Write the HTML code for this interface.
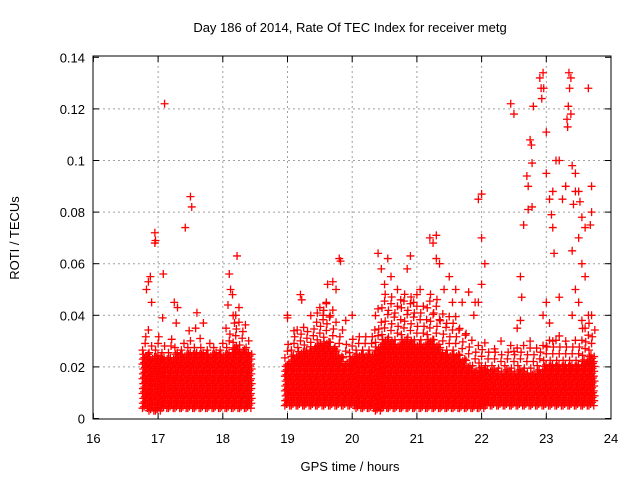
<!DOCTYPE html>
<html><head><meta charset="utf-8"><style>
body{margin:0;background:#fff}
svg{display:block;font-family:"Liberation Sans",sans-serif}
</style></head><body>
<svg id="chart" width="640" height="480">
<rect width="640" height="480" fill="#fff"/>
<text x="350" y="32" font-size="13" text-anchor="middle">Day 186 of 2014, Rate Of TEC Index for receiver metg</text>
<text x="350" y="471" font-size="13" text-anchor="middle">GPS time / hours</text>
<text transform="translate(19,238) rotate(-90)" font-size="13" text-anchor="middle">ROTI / TECUs</text>
<g id="grid"></g><g id="marks"></g><g id="axes"></g>
</svg>
<script>
const xTicks=[16,17,18,19,20,21,22,23,24];
const yTicks=[0,0.02,0.04,0.06,0.08,0.1,0.12,0.14];
const yTickLabels=["0","0.02","0.04","0.06","0.08","0.1","0.12","0.14"];
// dense band per 0.1h bin
const binTimes=[16.8,16.9,17.0,17.1,17.2,17.3,17.4,17.5,17.6,17.7,17.8,17.9,18.0,18.1,18.2,18.3,18.4,
19.0,19.1,19.2,19.3,19.4,19.5,19.6,19.7,19.8,19.9,20.0,20.1,20.2,20.3,20.4,20.5,20.6,20.7,20.8,20.9,21.0,21.1,21.2,21.3,21.4,21.5,21.6,21.7,21.8,21.9,22.0,22.1,22.2,22.3,22.4,22.5,22.6,22.7,22.8,22.9,23.0,23.1,23.2,23.3,23.4,23.5,23.6,23.7];
const binLow=[.004,.003,.003,.004,.004,.004,.004,.004,.004,.004,.004,.004,.004,.004,.004,.004,.004,
.005,.005,.005,.005,.005,.005,.005,.005,.005,.005,.005,.004,.004,.004,.003,.004,.004,.004,.004,.004,.004,.004,.004,.004,.004,.004,.004,.004,.004,.004,.004,.005,.005,.005,.005,.005,.005,.005,.005,.005,.005,.005,.005,.005,.005,.005,.005,.005];
const binHigh=[.025,.024,.025,.024,.024,.026,.025,.026,.026,.026,.025,.026,.025,.026,.028,.027,.026,
.022,.025,.026,.027,.028,.029,.03,.028,.025,.022,.024,.025,.025,.025,.028,.031,.03,.029,.031,.03,.029,.029,.031,.029,.026,.025,.025,.023,.021,.019,.02,.019,.019,.018,.019,.018,.019,.018,.018,.019,.021,.021,.021,.021,.021,.021,.023,.025];
const binUpper=[.035,.03,.032,.03,.033,.03,.03,.032,.03,.03,.03,.03,.03,.035,.04,.038,.032,
.03,.035,.037,.035,.04,.042,.045,.04,.035,.03,.033,.033,.034,.035,.045,.05,.048,.045,.05,.048,.045,.045,.05,.048,.042,.04,.04,.035,.035,.03,.03,.028,.028,.026,.03,.028,.03,.028,.028,.03,.032,.032,.03,.03,.032,.032,.035,.037];
const outT=[16.85,16.82,16.88,16.9,16.95,16.95,16.96,17.1,17.08,17.07,17.25,17.3,17.28,17.5,17.52,17.42,17.6,17.58,17.48,17.7,17.65,18.1,18.12,18.08,18.15,18.22,18.25,18.2,18.05,18.18,
19.0,19.0,19.2,19.22,19.1,19.5,19.55,19.62,19.7,19.75,19.8,19.82,19.6,19.7,19.9,20.0,
20.4,20.45,20.5,20.55,20.6,20.7,20.75,20.85,20.9,20.95,21.0,21.05,21.2,21.25,21.3,21.3,21.35,21.42,21.5,21.55,21.6,21.7,21.8,21.9,21.95,22.0,22.0,22.05,22.0,21.88,21.95,
22.45,22.5,22.6,22.62,22.65,22.7,22.72,22.75,22.77,22.78,22.8,22.72,22.78,22.9,22.92,22.93,22.95,22.96,23.0,23.0,23.05,23.1,23.08,23.12,23.1,23.15,23.2,23.25,23.3,23.35,23.38,23.36,23.34,23.32,23.33,23.38,23.4,23.45,23.5,23.52,23.55,23.6,23.65,23.7,23.7,23.68,23.45,23.42,23.5,23.55,23.6,23.4,23.45,23.5,23.55,23.6,23.4,23.65,23.7,23.3,23.2,23.0,22.95,23.05,22.6,22.55,22.5,23.0,23.2,23.1,22.75,22.2,22.3];
const outV=[.053,.05,.055,.045,.072,.068,.069,.122,.056,.039,.045,.043,.037,.086,.082,.074,.041,.035,.034,.037,.031,.056,.05,.044,.048,.063,.043,.04,.035,.037,
.04,.039,.048,.046,.034,.043,.04,.052,.053,.05,.062,.061,.045,.042,.038,.04,
.064,.058,.052,.062,.055,.05,.046,.058,.063,.045,.048,.05,.07,.068,.071,.062,.06,.05,.055,.045,.05,.045,.049,.045,.085,.087,.07,.06,.052,.04,.045,
.122,.118,.055,.047,.075,.094,.09,.108,.106,.099,.121,.081,.082,.132,.128,.124,.134,.128,.111,.095,.085,.088,.079,.064,.074,.1,.1,.085,.09,.134,.132,.128,.121,.116,.113,.118,.098,.095,.088,.084,.078,.074,.128,.09,.08,.075,.088,.083,.07,.06,.055,.065,.05,.045,.038,.035,.04,.04,.04,.03,.047,.045,.04,.037,.038,.035,.026,.028,.032,.03,.03,.027,.03];

const X0=93.4,XS=64.7,Y0=418.5,YS=2580,L=93,R=611,T=56,B=419;
const xs=t=>X0+(t-16)*XS, ys=v=>Y0-v*YS;
const NS="http://www.w3.org/2000/svg";
function mk(tag,attrs,parent){const e=document.createElementNS(NS,tag);for(const k in attrs)e.setAttribute(k,attrs[k]);parent.appendChild(e);return e;}
const grid=document.getElementById('grid'),marks=document.getElementById('marks'),axes=document.getElementById('axes');
xTicks.forEach((t,i)=>{
  const x=xs(t);
  if(i>0&&i<xTicks.length-1){const g=mk('line',{x1:x,x2:x,y1:T,y2:B,stroke:'#a0a0a0','stroke-dasharray':'2,3'},grid);
  
  }
  mk('line',{x1:x,x2:x,y1:B,y2:B-6,stroke:'#000'},axes);
  mk('line',{x1:x,x2:x,y1:T,y2:T+6,stroke:'#000'},axes);
  const l=mk('text',{x:x,y:443,'font-size':13,'text-anchor':'middle'},axes);l.textContent=t;
  
  
});
yTicks.forEach((v,i)=>{
  const y=ys(v);
  if(i>0&&i<yTicks.length-1){const g=mk('line',{x1:L,x2:R,y1:y,y2:y,stroke:'#a0a0a0','stroke-dasharray':'2,3'},grid);
  
  }
  mk('line',{x1:L,x2:L+6,y1:y,y2:y,stroke:'#000'},axes);
  mk('line',{x1:R,x2:R-6,y1:y,y2:y,stroke:'#000'},axes);
  const l=mk('text',{x:L-8,y:y+5,'font-size':13,'text-anchor':'end'},axes);l.textContent=yTickLabels[i];
  
  
});
const frame=mk('rect',{x:L,y:T,width:R-L,height:B-T,fill:'none',stroke:'#000'},axes);


function plus(t,v,col){
  const x=xs(t),y=ys(v);
  const p=mk('path',{d:`M${x-4},${y}h8M${x},${y-4}v8`,stroke:col,'stroke-width':1.3,fill:'none'},marks);
  
  
}
const jx=[-0.035,-0.01,0.015,0.04];
binTimes.forEach((t,i)=>{
  const lo=binLow[i],hi=binHigh[i],up=binUpper[i];
  jx.forEach((dt,k)=>{
    let n=0;
    for(let v=lo+(k%3)*0.0006;v<=hi;v+=0.0019){
      plus(t+dt+((n%3)-1)*0.006,v,'#ff0000');n++;
    }
  });
  let n=0;
  for(let v=hi+0.0015;v<=up;v+=0.0026){
    plus(t+jx[n%4]+((n%2)?0.01:-0.005),v,'#ff0000');n++;
  }
});
outT.forEach((t,i)=>plus(t,outV[i],'#ff0000'));
</script>
</body></html>
